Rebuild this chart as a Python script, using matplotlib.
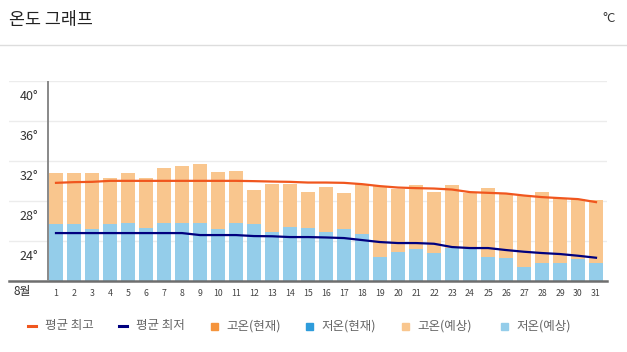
import matplotlib
matplotlib.use('Agg')
import matplotlib.pyplot as plt
import matplotlib.transforms as mtransforms
from matplotlib.lines import Line2D
from matplotlib.patches import Rectangle

plt.rcParams['font.family'] = ['Noto Sans CJK KR', 'DejaVu Sans']

# August, daily values (°C)
days = list(range(1, 32))
high = [30.8, 30.8, 30.8, 30.3, 30.8, 30.3, 31.3, 31.5, 31.7, 30.9, 31.0,
        29.1, 29.7, 29.7, 28.9, 29.4, 28.8, 29.7, 29.5, 29.2, 29.6, 28.9,
        29.6, 28.8, 29.3, 28.7, 28.5, 28.9, 28.3, 28.2, 28.1]
low = [25.7, 25.7, 25.2, 25.7, 25.8, 25.3, 25.8, 25.8, 25.8, 25.2, 25.8,
       25.7, 24.9, 25.4, 25.3, 24.9, 25.2, 24.7, 22.4, 22.9, 23.2, 22.8,
       23.3, 23.2, 22.4, 22.3, 21.4, 21.8, 21.8, 22.2, 21.8]
avg_high = [29.8, 29.87, 29.9, 30.0, 30.0, 30.0, 30.0, 30.0, 30.0, 30.0, 30.0,
            29.97, 29.93, 29.9, 29.83, 29.83, 29.8, 29.67, 29.47, 29.33, 29.27,
            29.23, 29.13, 28.87, 28.8, 28.73, 28.53, 28.37, 28.27, 28.17, 27.87]
avg_low = [24.77, 24.77, 24.77, 24.77, 24.77, 24.77, 24.77, 24.77, 24.57, 24.57,
           24.57, 24.47, 24.45, 24.37, 24.37, 24.33, 24.27, 24.07, 23.87, 23.77,
           23.77, 23.7, 23.37, 23.27, 23.27, 23.07, 22.9, 22.77, 22.67, 22.5, 22.3]
y_ticks = [24, 28, 32, 36, 40]
month_label = '8월'
legend_labels = ['평균 최고', '평균 최저', '고온(현재)', '저온(현재)', '고온(예상)', '저온(예상)']

c_avg_high = '#f0561e'
c_avg_low = '#00007f'
c_high_now = '#f5943c'
c_low_now = '#2e9cdb'
c_high_fc = '#f9c68e'
c_low_fc = '#94cdea'
legend_colors = [c_avg_high, c_avg_low, c_high_now, c_low_now, c_high_fc, c_low_fc]

W, H = 627, 352
fig = plt.figure(figsize=(W / 100, H / 100), dpi=100)

# header
fig.text(9 / W, 1 - 20 / H, '온도 그래프', fontsize=12.5, color='#222222',
         ha='left', va='center')
fig.text(616 / W, 1 - 19 / H, '°C', fontsize=9.5, color='#333333',
         ha='right', va='center')
fig.add_artist(Line2D([0, 1], [1 - 44.5 / H, 1 - 44.5 / H], color='#dddddd',
                      lw=1, transform=fig.transFigure))

ax = fig.add_axes([9 / W, (H - 280.7) / H, 598 / W, 199.7 / H])
ax.set_xlim(-1.611, 31.611)
ax.set_ylim(20, 40)

for v in y_ticks:
    ax.axhline(v, color='#ececec', lw=1, zorder=0)

bw = 0.78
ax.bar(days, [h - 20 for h in high], bottom=20, width=bw, color=c_high_fc, zorder=1)
ax.bar(days, [l - 20 for l in low], bottom=20, width=bw, color=c_low_fc, zorder=2)
ax.plot(days, avg_high, color=c_avg_high, lw=1.6, zorder=3)
ax.plot(days, avg_low, color=c_avg_low, lw=1.6, zorder=3)

ax.axvline(0.556, color='#888888', lw=1.4, zorder=4)
for s in ['top', 'right', 'left']:
    ax.spines[s].set_visible(False)
ax.spines['bottom'].set_color('#6e6e6e')
ax.spines['bottom'].set_linewidth(1.8)

ax.set_yticks([])
ax.set_xticks(days)
ax.set_xticklabels([str(d) for d in days], fontsize=6.3, color='#444444')
ax.tick_params(axis='x', length=0, pad=6)

off = mtransforms.offset_copy(ax.transData, fig=fig, x=0, y=-15.7, units='dots')
for v in y_ticks:
    ax.text(0.0, v, f'{v}°', transform=off, ha='right', va='center',
            fontsize=9, color='#333333')
ax.text(-0.889, 20, month_label, transform=mtransforms.offset_copy(
    ax.transData, fig=fig, x=0, y=-11, units='dots'),
    ha='center', va='center', fontsize=8.5, color='#333333')

# legend, drawn item by item
leg_x = [28, 119, 211, 306, 402, 501]
leg_y = 1 - 326 / H
for i, (x, lab, col) in enumerate(zip(leg_x, legend_labels, legend_colors)):
    if i < 2:
        fig.add_artist(Line2D([x / W, (x + 8) / W], [leg_y, leg_y], color=col,
                              lw=2.2, transform=fig.transFigure))
        tx = x + 17
    else:
        fig.add_artist(Rectangle((x / W, leg_y - 3.5 / H), 7 / W, 7 / H,
                                 color=col, transform=fig.transFigure))
        tx = x + 15
    fig.text(tx / W, leg_y, lab, fontsize=9, color='#666666',
             ha='left', va='center')

fig.savefig('out.png', dpi=100)
